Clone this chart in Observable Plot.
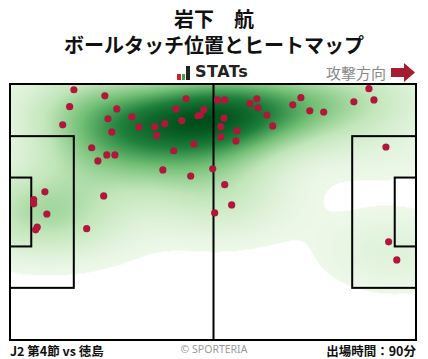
<!DOCTYPE html>
<html><head><meta charset="utf-8">
<script src="https://cdn.jsdelivr.net/npm/d3@7"></script>
<script src="https://cdn.jsdelivr.net/npm/@observablehq/plot@0.6"></script>
<style>
body{margin:0;background:#fff;font-family:"Noto Sans CJK JP","Noto Sans",sans-serif;width:428px;height:359px;overflow:hidden;position:relative}
#hdr{position:relative;height:82px}
.t{position:absolute;left:0;width:428px;text-align:center;font-weight:bold;font-size:20px;color:#111;line-height:1;font-family:"Liberation Sans","Noto Sans CJK JP",sans-serif}
#t1{top:10px}#t2{top:36px}
#logo{position:absolute;left:177px;top:64px;height:16px;display:flex;align-items:flex-end}
.b{display:inline-block;width:3.5px;margin-right:1px}
#stats{position:absolute;left:195px;top:62px;font-family:"DejaVu Sans",sans-serif;font-weight:bold;font-size:16px;color:#222;letter-spacing:0.5px}
#dir{position:absolute;left:326px;top:62px;font-size:15px;color:#888}
#arrow{position:absolute;left:390px;top:62px}
#ftr{position:absolute;top:341px;left:0;width:428px;height:18px;font-size:12.5px}
#fl{position:absolute;left:10px;top:0;font-weight:bold;color:#111}
#fc{position:absolute;left:0;width:428px;text-align:center;top:1px;font-family:"Noto Sans",sans-serif;font-size:10.5px;color:#999}
#fr{position:absolute;right:12px;top:0;font-weight:bold;color:#111}
</style></head><body>
<div id="hdr">
<div class="t" id="t1">岩下　航</div>
<div class="t" id="t2">ボールタッチ位置とヒートマップ</div>
<div id="logo"><span class="b" style="height:6px;background:#d0202e"></span><span class="b" style="height:6px;background:#3aa346"></span><span class="b" style="height:14px;background:#222;width:4px"></span></div>
<div id="stats">STATs</div>
<div id="dir">攻撃方向</div>
<svg id="arrow" width="26" height="22"><path d="M1,6 H14 V1 L25,10.5 L14,20 V15 H1 Z" fill="#a51c30"/></svg>
</div>
<div id="chart"></div>
<div id="ftr"><div id="fl">J2 第4節 vs 徳島</div><div id="fc">© SPORTERIA</div><div id="fr">出場時間：90分</div></div>
<script>
// Ball touch positions in pitch metres (x: 0-105 toward attack, y: 0-68 from top touchline)
const touchX = [16.4,24.4,15.3,27.5,25.2,31.4,13.5,26.2,33.2,37.3,39.9,37.8,45.4,42.8,44.3,48.5,49.1,50.0,47.4,42.2,21.0,22.6,24.9,27.0,39.4,46.6,52.3,8.9,6.0,6.0,9.4,6.9,6.5,19.7,24.1,53.5,55.4,55.2,54.4,54.4,58.6,58.3,61.9,63.7,64.0,66.3,67.8,73.0,75.1,77.4,81.0,88.8,92.7,94.0,97.1,55.4,57.2,52.8,97.8,99.9];
const touchY = [1.4,3.0,5.9,6.5,9.1,8.6,10.7,12.6,11.3,11.2,10.4,13.6,3.8,6.5,9.6,8.3,8.1,6.7,15.8,17.6,16.8,20.3,18.7,18.7,22.7,24.3,22.4,28.5,30.6,31.7,34.4,37.9,38.6,38.3,29.6,4.1,4.1,8.9,11.2,13.9,12.3,15.0,5.1,3.8,6.2,8.1,11.0,5.4,3.5,7.0,7.3,4.6,1.1,4.1,16.6,26.6,32.0,34.1,41.8,46.6];
// Pitch markings (metres)
const pitchLength = 105, pitchWidth = 68;
const boxes = [
  {x1:0, x2:105, y1:0, y2:68},
  {x1:0, x2:16.5, y1:13.85, y2:54.15},
  {x1:0, x2:5.5, y1:24.85, y2:43.15},
  {x1:88.5, x2:105, y1:13.85, y2:54.15},
  {x1:99.5, x2:105, y1:24.85, y2:43.15}
];
const halfway = [{x:52.5}];
// Heatmap smoothing (kernel widths in metres) and cut-off level
const bwX = 12, bwY = 6.5, cutoff = 0.48;

const touches = touchX.map((x,i)=>({x, y: touchY[i]}));
const kde = (x, y) => {
  let s = 0;
  for (let i = 0; i < touchX.length; i++) {
    const dx = (x - touchX[i]) / bwX, dy = (y - touchY[i]) / bwY;
    s += Math.exp(-0.5 * (dx*dx + dy*dy));
  }
  return s < cutoff ? NaN : s;
};

const plot = Plot.plot({
  width: 428, height: 260,
  marginLeft: 10, marginRight: 12, marginTop: 2, marginBottom: 2,
  x: {domain:[0,pitchLength], axis:null},
  y: {domain:[0,pitchWidth], reverse:true, axis:null},
  color: {type:"linear", range:["#eef8ea","#c2e6ba","#72bf75","#1f803c","#004f1b"], interpolate:"rgb"},
  marks: [
    Plot.raster({fill: kde, x1:0, x2:pitchLength, y1:0, y2:pitchWidth, pixelSize:1}),
    Plot.rect(boxes, {x1:"x1", x2:"x2", y1:"y1", y2:"y2", fill:"none", stroke:"#000", strokeWidth:2}),
    Plot.ruleX(halfway, {x:"x", y1:0, y2:68, stroke:"#000", strokeWidth:2}),
    Plot.dot(touches, {x:"x", y:"y", r:3.6, fill:"#b0173a", stroke:"none"})
  ]
});
document.getElementById("chart").appendChild(plot);
</script>
</body></html>
